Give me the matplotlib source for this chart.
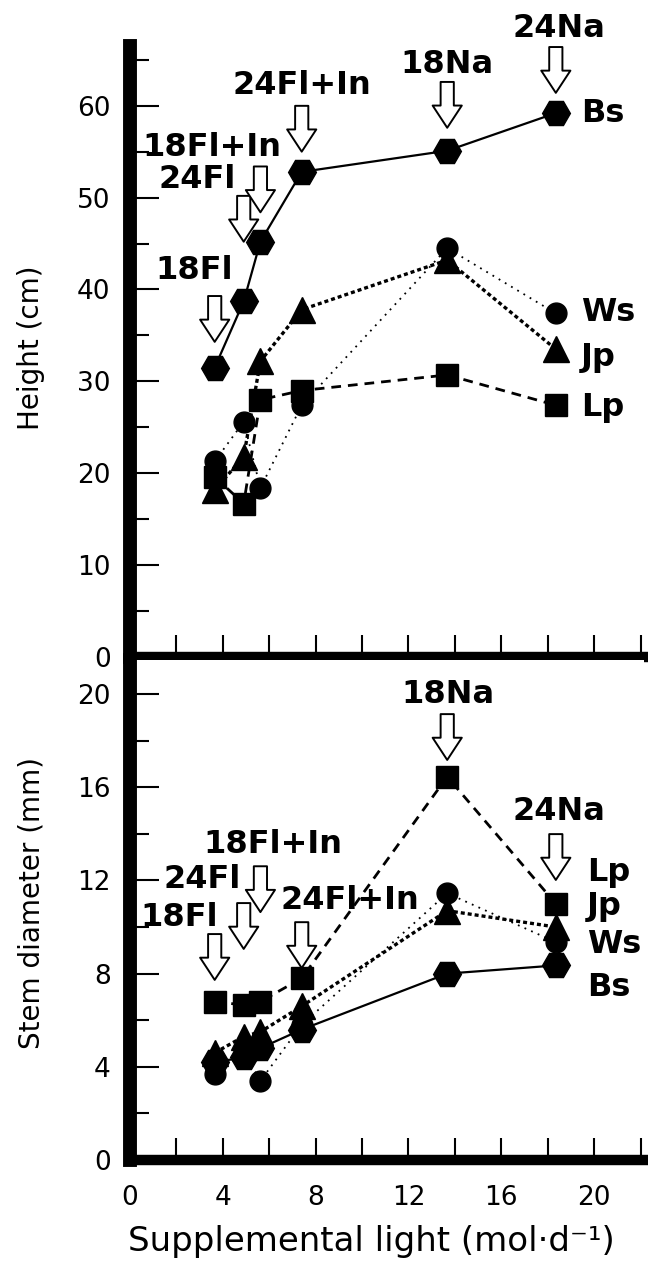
import matplotlib
matplotlib.use('Agg')
import matplotlib.pyplot as plt

plt.rcParams['font.family'] = ['DejaVu Sans']

# supplemental light of the six lighting treatments (mol/d)
light = [3.65, 4.9, 5.62, 7.4, 13.67, 18.35]
treatments = ['18Fl', '24Fl', '18Fl+In', '24Fl+In', '18Na', '24Na']
species = ['Bs', 'Ws', 'Jp', 'Lp']

# plant height (cm)
height_bs = [31.5, 38.7, 45.2, 52.8, 55.1, 59.2]
height_ws = [21.3, 25.6, 18.4, 27.4, 44.5, 37.4]
height_jp = [18.2, 21.8, 32.2, 37.8, 43.2, 33.5]
height_lp = [19.6, 16.7, 28.0, 29.0, 30.7, 27.4]

# stem diameter (mm)
stem_bs = [4.2, 4.4, 4.8, 5.6, 8.0, 8.35]
stem_ws = [3.7, 4.6, 3.4, 5.8, 11.45, 9.35]
stem_jp = [4.6, 5.3, 5.5, 6.6, 10.7, 10.0]
stem_lp = [6.8, 6.65, 6.8, 7.8, 16.45, 11.0]

# where the treatment labels / arrows / species names sit (data units)
top_arrow_tip = [34.3, 45.2, 48.4, 55.0, 57.6, 61.4]
top_text_xy = [(2.76, 42.1), (2.89, 52.0), (3.53, 55.5), (7.41, 62.2), (13.66, 64.5), (18.49, 68.4)]
top_species_y = [59.1, 37.5, 32.6, 27.2]

bot_arrow_tip = [7.73, 9.06, 10.64, 8.24, 17.17, 12.02]
bot_text_xy = [(2.11, 10.39), (3.1, 12.02), (6.16, 13.52), (9.48, 11.12), (13.7, 20.0), (18.49, 14.94)]
bot_species_y = [7.42, 9.23, 10.86, 12.36]

styles = {
    'Bs': dict(marker='H', ms=20, ls='-', lw=1.6),
    'Ws': dict(marker='o', ms=15, ls=(0, (1, 3)), lw=1.3),
    'Jp': dict(marker='^', ms=19, ls=(0, (1.2, 0.9)), lw=2.4),
    'Lp': dict(marker='s', ms=16, ls=(0, (3.5, 2.5)), lw=2.0),
}

fig = plt.figure(figsize=(6.48, 12.69), dpi=100)
ax1 = fig.add_axes([130 / 648, 1 - 657 / 1269, 514 / 648, 611 / 1269])
ax2 = fig.add_axes([130 / 648, 1 - 1160 / 1269, 514 / 648, 500 / 1269])


def style_axes(ax):
    for s in ['top', 'right']:
        ax.spines[s].set_visible(False)
    ax.spines['left'].set_linewidth(10)
    ax.spines['bottom'].set_linewidth(7.5)
    ax.spines['left'].set_capstyle('projecting')
    ax.spines['bottom'].set_capstyle('projecting')
    ax.set_xlim(0, 22.15)
    ax.set_xticks(range(0, 23, 2))
    ax.set_xticks([10, 20], minor=True)
    ax.tick_params(axis='x', which='major', direction='in', length=16, width=1.5, pad=18, labelsize=19)
    ax.tick_params(axis='x', which='minor', direction='in', length=26, width=1.5)
    ax.tick_params(axis='y', which='both', direction='in', width=1.5, pad=14, labelsize=19)
    ax.tick_params(axis='y', which='major', length=21)
    ax.tick_params(axis='y', which='minor', length=14)


def draw_arrow(ax, x, tip):
    ax.annotate('', xy=(x, tip), xytext=(0, 33), textcoords='offset points',
                arrowprops=dict(arrowstyle='simple,head_length=1.6,head_width=2.1,tail_width=0.95',
                                fc='white', ec='black', lw=1.4, mutation_scale=10,
                                shrinkA=0, shrinkB=0), annotation_clip=False)


for ax in (ax1, ax2):
    style_axes(ax)

series_top = {'Bs': height_bs, 'Ws': height_ws, 'Jp': height_jp, 'Lp': height_lp}
series_bot = {'Bs': stem_bs, 'Ws': stem_ws, 'Jp': stem_jp, 'Lp': stem_lp}

for ax, series in ((ax1, series_top), (ax2, series_bot)):
    for name in ['Ws', 'Jp', 'Lp', 'Bs']:
        st = styles[name]
        ax.plot(light, series[name], color='black', marker=st['marker'], ms=st['ms'],
                ls=st['ls'], lw=st['lw'], mec='black', mfc='black', clip_on=False, zorder=3)

# top panel
ax1.set_ylim(0, 66.5)
ax1.set_yticks(range(0, 61, 10))
ax1.set_yticks(range(5, 66, 10), minor=True)
ax1.tick_params(axis='x', labelbottom=False)
ax1.set_ylabel('Height (cm)', fontsize=20)
ax1.yaxis.set_label_coords(-0.165, 0.506)

for i, t in enumerate(treatments):
    draw_arrow(ax1, light[i], top_arrow_tip[i])
    ax1.text(top_text_xy[i][0], top_text_xy[i][1], t, fontsize=23, fontweight='bold',
             ha='center', va='center', clip_on=False)
for name, y in zip(species, top_species_y):
    ax1.text(19.44, y, name, fontsize=23, fontweight='bold', ha='left', va='center', clip_on=False)

# bottom panel
ax2.set_ylim(0, 21.46)
ax2.set_yticks(range(0, 21, 4))
ax2.set_yticks(range(2, 20, 4), minor=True)
ax2.set_xticklabels([str(v) if v % 4 == 0 else '' for v in range(0, 23, 2)])
ax2.set_ylabel('Stem diameter (mm)', fontsize=20)
ax2.yaxis.set_label_coords(-0.165, 0.514)
ax2.set_xlabel('Supplemental light (mol\u00b7d\u207b\u00b9)', fontsize=24.5)
ax2.xaxis.set_label_coords(0.47, -0.13)

for i, t in enumerate(treatments):
    draw_arrow(ax2, light[i], bot_arrow_tip[i])
    ax2.text(bot_text_xy[i][0], bot_text_xy[i][1], t, fontsize=23, fontweight='bold',
             ha='center', va='center', clip_on=False)
for name, y in zip(species, bot_species_y):
    ax2.text(19.7, y, name, fontsize=23, fontweight='bold', ha='left', va='center', clip_on=False)

fig.savefig('out.png', dpi=100)
